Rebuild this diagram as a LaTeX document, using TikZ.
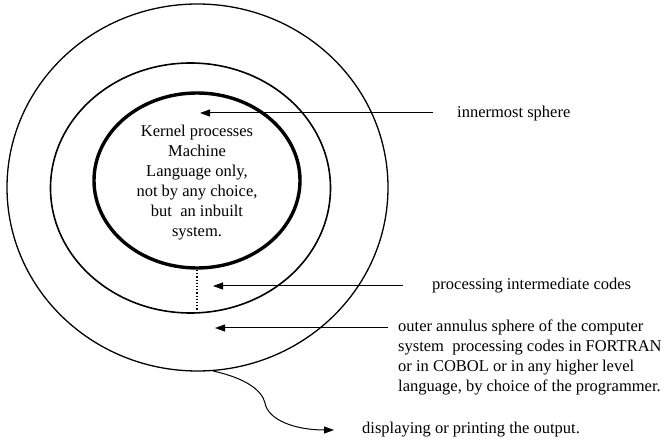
\documentclass[tikz,border=0pt]{standalone}
\usepackage{fontspec}
\setmainfont{Liberation Serif}
\usetikzlibrary{arrows.meta}
\begin{document}
\begin{tikzpicture}[x=1pt,y=-1pt,
  txt/.style={inner sep=0pt,font=\fontsize{16.5}{20}\selectfont},
  lbl/.style={txt,anchor=west,align=left},
  ptr/.style={line width=1pt,-{Triangle[length=10pt,width=7pt]}},
  ring/.style={line width=1.3pt}]
\useasboundingbox (0,0) rectangle (664,443);
% three nested spheres
\draw[ring] (197.5,187.5) ellipse [x radius=190.5, y radius=183.5];
\draw[ring,line width=1.6pt] (190.5,188) ellipse [x radius=140, y radius=125];
\draw[line width=3.4pt] (197,180.5) ellipse [x radius=103, y radius=87.5];
% dotted link between kernel and middle sphere
\coordinate (d1) at (197,270);
\coordinate (d2) at (197,312);
\draw[line width=1.2pt,dotted] (d1) -- (d2);
% kernel text
\node[txt,align=center] (kernel) at (197,183)
  {Kernel processes\\Machine\\Language only,\\not by any choice,\\but\ \ an inbuilt\\system.};
% labels
\node[lbl] (inner) at (457,114) {innermost sphere};
\node[lbl] (inter) at (432,286) {processing intermediate codes};
\node[lbl,anchor=north west] (outer) at (398,320)
  {outer annulus sphere of the computer\\system\ \ processing codes in FORTRAN\\or in COBOL or in any higher level\\language, by choice of the programmer.};
\node[lbl] (disp) at (362,430) {displaying or printing the output.};
% pointers
\coordinate (t1) at (200,113);
\coordinate (s1) at (433,113);
\coordinate (t2) at (213,286);
\coordinate (s2) at (403,286);
\coordinate (t3) at (215,328);
\coordinate (s3) at (388,328);
\draw[ptr] (s1) -- (t1);
\draw[ptr] (s2) -- (t2);
\draw[ptr] (s3) -- (t3);
% output path leaving the outer sphere
\coordinate (o1) at (213,371);
\coordinate (o2) at (265,403);
\coordinate (o3) at (334,430);
\draw[ptr] (o1) .. controls (245,378) and (262,390) .. (o2)
  .. controls (268,420) and (295,430) .. (o3);
\end{tikzpicture}
\end{document}
